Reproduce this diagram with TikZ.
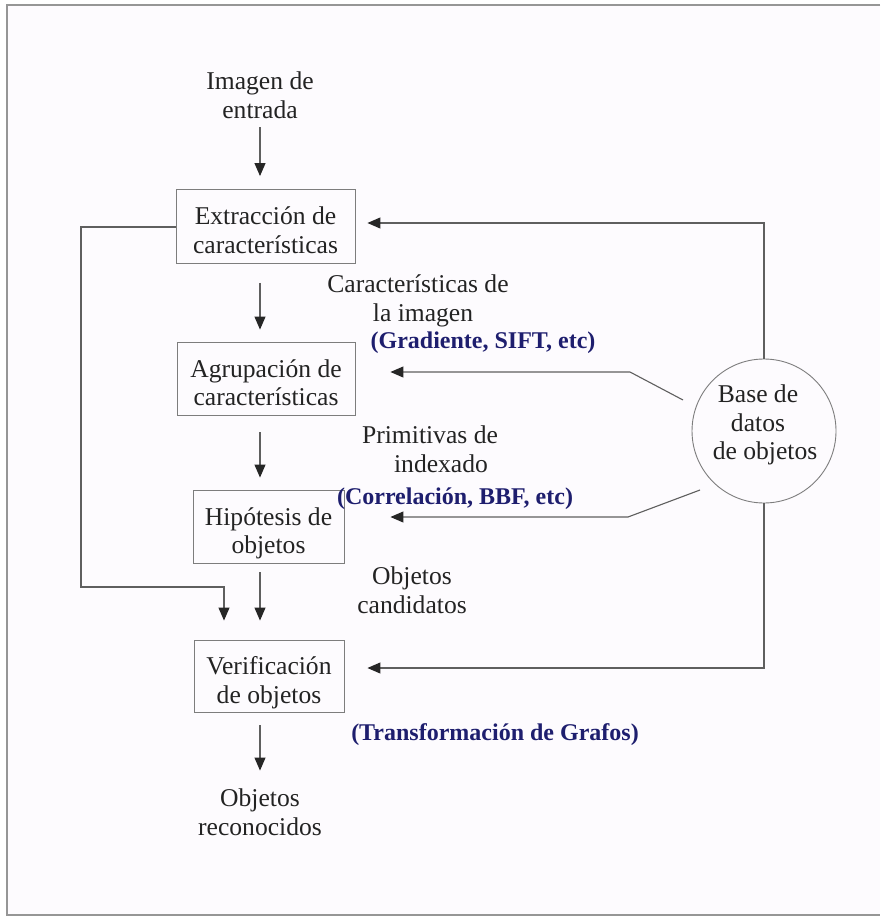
\documentclass[tikz,border=0pt]{standalone}
\usepackage{fontspec}
\setmainfont{Liberation Serif}
\usetikzlibrary{arrows.meta,calc}
\definecolor{navy}{RGB}{30,30,110}
\definecolor{linec}{RGB}{95,95,95}
\definecolor{boxc}{RGB}{125,125,125}
\definecolor{bgc}{RGB}{253,251,254}
\definecolor{framec}{RGB}{150,150,150}
\definecolor{txtc}{RGB}{35,35,35}
\newcommand\firsttop{\rule{0pt}{31.5pt}}
\newcommand\lastdepthrule{\rule[-6pt]{0pt}{6pt}}
\newcommand\padright[1]{\rule{#1}{0pt}}
\begin{document}
\begin{tikzpicture}[x=1pt,y=-1pt,
  lbl/.style={font=\fontsize{25.6}{28.5}\selectfont, align=center, inner sep=0pt, text=txtc},
  blbl/.style={font=\fontsize{24}{28}\selectfont\bfseries, text=navy, inner sep=0pt},
  proc/.style={draw=boxc, line width=0.9pt, font=\fontsize{25.6}{28.5}\selectfont, align=center, inner sep=0pt, text=txtc},
  dbcircle/.style={draw=boxc, line width=0.9pt, circle, minimum size=144pt, inner sep=0pt},
  conn/.style={draw=linec, line width=1.1pt},
  arr/.style={conn, -{Triangle[length=13pt,width=11pt,color=black!85]}}]
\useasboundingbox (0,0) rectangle (880,917);
\fill[bgc] (7,5) rectangle (880,915);
\draw[framec, line width=1.2pt] (880,5) -- (7,5) -- (7,915) -- (880,915);

% column of the vertical flow arrows
\coordinate (col) at (260,0);

% process boxes
\node[proc, minimum width=179pt, minimum height=74pt] (b1) at (265.5,226.5) {\firsttop Extracción de\\características\lastdepthrule};
\node[proc, minimum width=178pt, minimum height=73pt] (b2) at (266,378.5) {\firsttop Agrupación de\\características\lastdepthrule};
\node[proc, minimum width=151pt, minimum height=73pt] (b3) at (268.5,526.5) {\firsttop Hipótesis de\\objetos\lastdepthrule};
\node[proc, minimum width=150pt, minimum height=72pt] (b4) at (269,676) {\firsttop Verificación\\de objetos\lastdepthrule};

% input / output texts
\node[lbl] (in) at (260,95) {Imagen de\\entrada};
\node[lbl] (out) at (260,812) {Objetos\\reconocidos};

% side labels
\node[lbl] (l1) at (418,301) {Características de\\\padright{10pt}la imagen};
\node[blbl] (l1b) at (483,343) {(Gradiente, SIFT, etc)};
\node[lbl] (l2) at (430,449) {Primitivas de\\\padright{22pt}indexado};
\node[blbl] (l2b) at (455,499) {(Correlación, BBF, etc)};
\node[lbl] (l3) at (412,590) {Objetos\\candidatos};
\node[blbl] (l4b) at (495,735) {(Transformación de Grafos)};

% database circle
\node[dbcircle] (db) at (764,431) {};
\node[lbl] (dbt) at (765,425) {Base de\padright{14pt}\\datos\padright{14pt}\\de objetos};

% main flow
\draw[arr, shorten <=9pt, shorten >=13pt] (in.south) -- (b1.north -| col);
\draw[arr, shorten <=19pt, shorten >=12pt] (b1.south -| col) -- (b2.north -| col);
\draw[arr, shorten <=17pt, shorten >=12pt] (b2.south -| col) -- (b3.north -| col);
\draw[arr, shorten <=9pt, shorten >=19pt] (b3.south -| col) -- (b4.north -| col);
\draw[arr, shorten <=13pt, shorten >=18pt] (b4.south -| col) -- (out.north);

% feedback from extraction to verification
\coordinate (fl1) at (81,227);
\coordinate (fl2) at (81,587);
\coordinate (fl3) at (224,587);
\draw[arr, shorten >=19pt] (b1.west |- fl1) -- (fl1) -- (fl2) -- (fl3) -- (b4.north -| fl3);

% database links
\coordinate (r1) at (764,223);
\draw[arr, shorten >=12pt] (db.north) -- (r1) -- (b1.east |- r1);

\coordinate (s1) at (683,400);
\coordinate (k1) at (630,372);
\draw[arr, shorten >=35pt] (s1) -- (k1) -- (b2.east |- k1);

\coordinate (s2) at (700,490);
\coordinate (k2) at (628,517);
\draw[arr, shorten >=46pt] (s2) -- (k2) -- (b3.east |- k2);

\coordinate (r4) at (764,668);
\draw[arr, shorten >=23pt] (db.south) -- (r4) -- (b4.east |- r4);
\end{tikzpicture}
\end{document}
